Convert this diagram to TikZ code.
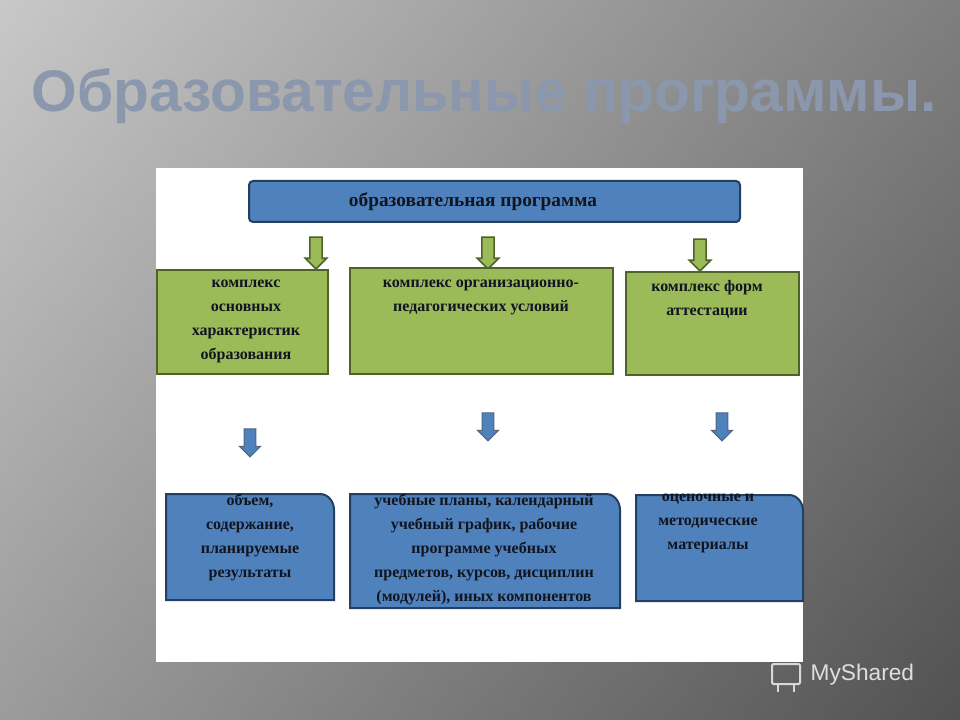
\documentclass[tikz,border=0pt]{standalone}
\usepackage{fontspec}
\setmainfont{Liberation Serif}
\newfontfamily\titlefont{Liberation Sans}
\usetikzlibrary{shapes.arrows}
\definecolor{bluef}{HTML}{4F81BD}
\definecolor{blued}{HTML}{243F60}
\definecolor{greenf}{HTML}{9BBB59}
\definecolor{greend}{HTML}{4F6228}
\definecolor{txt}{HTML}{10151F}
\definecolor{titlec}{HTML}{8A97AC}
\tikzset{
 gbox/.style={draw=greend,line width=1.5pt,fill=greenf},
 bbox/.style={draw=blued,line width=1.5pt,fill=bluef},
 lbl/.style={font=\bfseries\fontsize{12}{18}\selectfont,text=txt,align=center,inner sep=0pt},
 garrow/.style={single arrow,draw=greend,fill=greenf,line width=1.2pt,shape border rotate=270,minimum height=24pt,inner sep=4pt,single arrow head extend=3.5pt,single arrow head indent=0pt},
 barrow/.style={single arrow,draw=blued!80,fill=bluef,line width=0.8pt,shape border rotate=270,minimum height=21pt,inner sep=4pt,single arrow head extend=3.5pt},
}
\begin{document}
\begin{tikzpicture}[x=0.75pt,y=-0.75pt]
\useasboundingbox (0,0) rectangle (960,720);
\shade[left color=gray!55,right color=black!72] (0,0) rectangle (960,720);
\shade[top color=black!10,bottom color=black!60,opacity=0.35] (0,0) rectangle (960,720);
% title
\node[font=\titlefont\bfseries\fontsize{44}{50}\selectfont,text=titlec,anchor=center] (title) at (484,96) {Образовательные программы.};
% panel
\fill[white] (156,168) rectangle (803,662);
% top box
\draw[bbox,rounded corners=3pt] (249,181) rectangle (740,222);
\node[font=\bfseries\fontsize{14.5}{16}\selectfont,text=txt] (top) at (473,202) {образовательная программа};
% green arrows
\node[garrow] (ga1) at (316,250) {};
\node[garrow] (ga2) at (488,250) {};
\node[garrow] (ga3) at (700,252) {};
% green boxes
\draw[gbox] (157,270) rectangle (328,374);
\draw[gbox] (350,268) rectangle (613,374);
\draw[gbox] (626,272) rectangle (799,375);
\node[lbl,anchor=north] (g1) at (246,280) {комплекс\\основных\\характеристик\\образования};
\node[lbl,anchor=north] (g2) at (481,280) {комплекс организационно-\\педагогических условий};
\node[lbl,anchor=north] (g3) at (707,280) {комплекс форм\\аттестации};
% blue arrows
\node[barrow] (ba1) at (250,440) {};
\node[barrow] (ba2) at (488,424) {};
\node[barrow] (ba3) at (722,424) {};
% blue boxes
\draw[bbox] (166,494) -- (320,494) to[out=0,in=90] (334,510) -- (334,600) -- (166,600) -- cycle;
\draw[bbox] (350,494) -- (606,494) to[out=0,in=90] (620,510) -- (620,608) -- (350,608) -- cycle;
\draw[bbox] (636,495) -- (789,495) to[out=0,in=90] (803,511) -- (803,601) -- (636,601) -- cycle;
\node[lbl,anchor=north] (b1) at (250,494) {объем,\\содержание,\\планируемые\\результаты};
\node[lbl,anchor=north] (b2) at (484,494) {учебные планы, календарный\\учебный график, рабочие\\программе учебных\\предметов, курсов, дисциплин\\(модулей), иных компонентов};
\node[lbl,anchor=north] (b3) at (708,494) {оценочные и\\методические\\материалы};
% watermark
\node[font=\titlefont\fontsize{17}{20}\selectfont,text=white!75!gray,anchor=west] (wm) at (806,675) {MyShared};
\draw[white!70!gray,line width=1.5pt,rounded corners=1pt] (772,664) rectangle (800,684);
\draw[white!70!gray,line width=1.5pt] (778,684) -- (778,692) (794,684) -- (794,692);
\end{tikzpicture}
\end{document}
